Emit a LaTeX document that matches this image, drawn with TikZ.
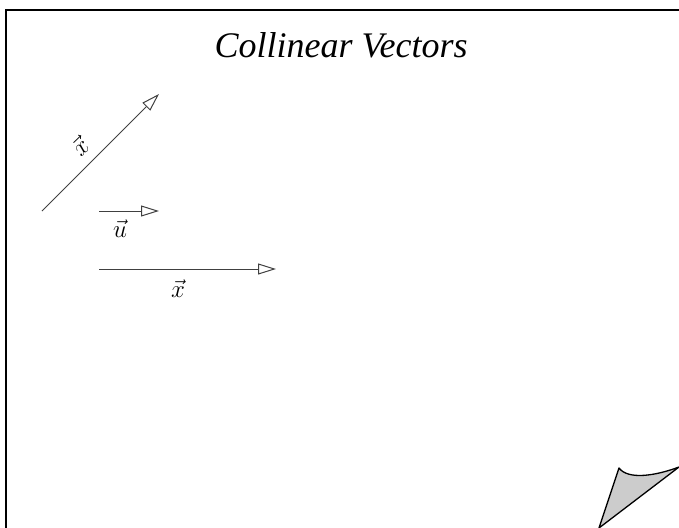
\documentclass[tikz,border=0pt]{standalone}
\usepackage{fontspec}
\setmainfont{Liberation Serif}
\usetikzlibrary{arrows.meta}
\begin{document}
\begin{tikzpicture}[x=1pt,y=-1pt,
  vec/.style={draw=black!75, line width=1pt, -{Triangle[open, length=18pt, width=11pt, line width=1pt]}},
  lbl/.style={font=\fontsize{24}{28}\selectfont, inner sep=0pt},
  curl/.style={draw=black, line width=1.3pt, fill=black!20, line join=round}]
\useasboundingbox (0,0) rectangle (679,527);
\clip (0,0) rectangle (679,527);
\draw[line width=2pt] (6,10) rectangle (700,560);
\node[font=\fontsize{36}{42}\selectfont\itshape, anchor=base] (title) at (341,57) {Collinear Vectors};
% diagonal vector
\coordinate (d0) at (42,211);
\coordinate (d1) at (159,94);
\draw[vec] (d0) -- (d1);
\node[lbl, rotate=44] (dl) at (80,146) {$\vec{x}$};
% u vector
\coordinate (u0) at (99,211);
\coordinate (u1) at (159,211);
\draw[vec] (u0) -- (u1);
\node[lbl] (ul) at (120,229) {$\vec{u}$};
% x vector
\coordinate (x0) at (99,269);
\coordinate (x1) at (276,269);
\draw[vec] (x0) -- (x1);
\node[lbl] (xl) at (178,289) {$\vec{x}$};
% page curl
\draw[curl] (619,468) .. controls (628,480) and (655,476) .. (679,467) -- (599,528) -- cycle;
\end{tikzpicture}
\end{document}
